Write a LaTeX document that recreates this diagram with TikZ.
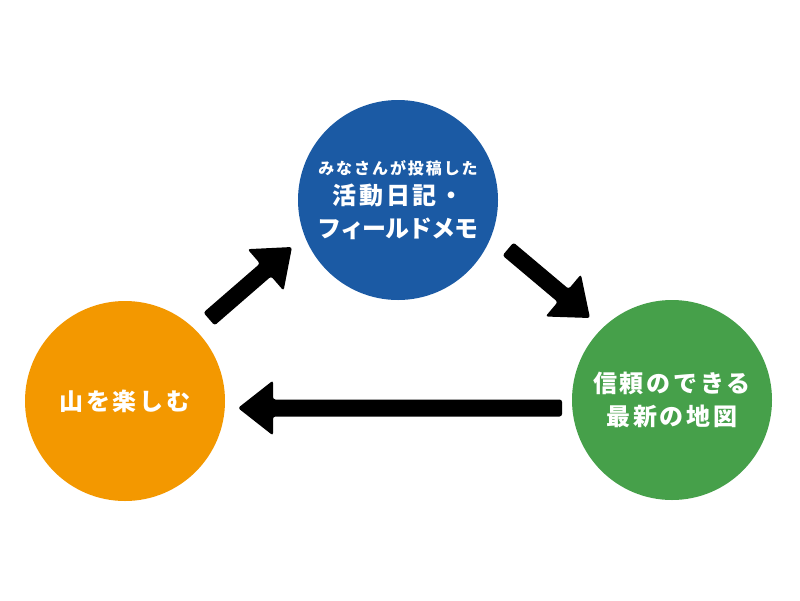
\documentclass[tikz,border=0pt]{standalone}
\usepackage{fontspec}
\usetikzlibrary{calc}
\newfontfamily\jp[LetterSpace=12]{Noto Sans CJK JP}
\definecolor{cblue}{RGB}{27,90,164}
\definecolor{corange}{RGB}{243,152,0}
\definecolor{cgreen}{RGB}{70,160,74}
\tikzset{
  bubble/.style={circle, minimum size=200pt, inner sep=0pt, text=white, align=center,
    font=\jp\bfseries\fontsize{24}{33}\selectfont},
  fatarrow/.style={fill=black, rounded corners=2.5pt},
}
\newcommand\fatarrow[3]{%
  \coordinate (#3b) at ($(#2)!35pt!(#1)$);
  \fill[fatarrow] ($(#1)!8.5pt!90:(#2)$) -- ($(#3b)!8.5pt!-90:(#1)$)
     -- ($(#3b)!27.5pt!-90:(#1)$) -- (#2) -- ($(#3b)!27.5pt!90:(#1)$)
     -- ($(#3b)!8.5pt!90:(#1)$) -- ($(#1)!8.5pt!-90:(#2)$) -- cycle;
}
\begin{document}
\begin{tikzpicture}[x=1pt,y=-1pt]
\useasboundingbox[fill=white] (0,0) rectangle (800,600);
\node[bubble, fill=cblue] (post) at (398,200)
  {{\fontsize{16}{20}\selectfont みなさんが投稿した}\\[-3pt]活動日記・\\{\addfontfeature{LetterSpace=-5}フィールドメモ}};
\node[bubble, fill=corange] (enjoy) at (125,401) {山を楽しむ};
\node[bubble, fill=cgreen] (map) at (672,400) {信頼のできる\\最新の地図};
\coordinate (a1s) at (209,319);
\coordinate (a1e) at (292,247);
\coordinate (a2s) at (508,249);
\coordinate (a2e) at (590,318);
\coordinate (a3s) at (562,408);
\coordinate (a3e) at (238,408);
\fatarrow{a1s}{a1e}{a1}
\fatarrow{a2s}{a2e}{a2}
\fatarrow{a3s}{a3e}{a3}
\end{tikzpicture}
\end{document}
